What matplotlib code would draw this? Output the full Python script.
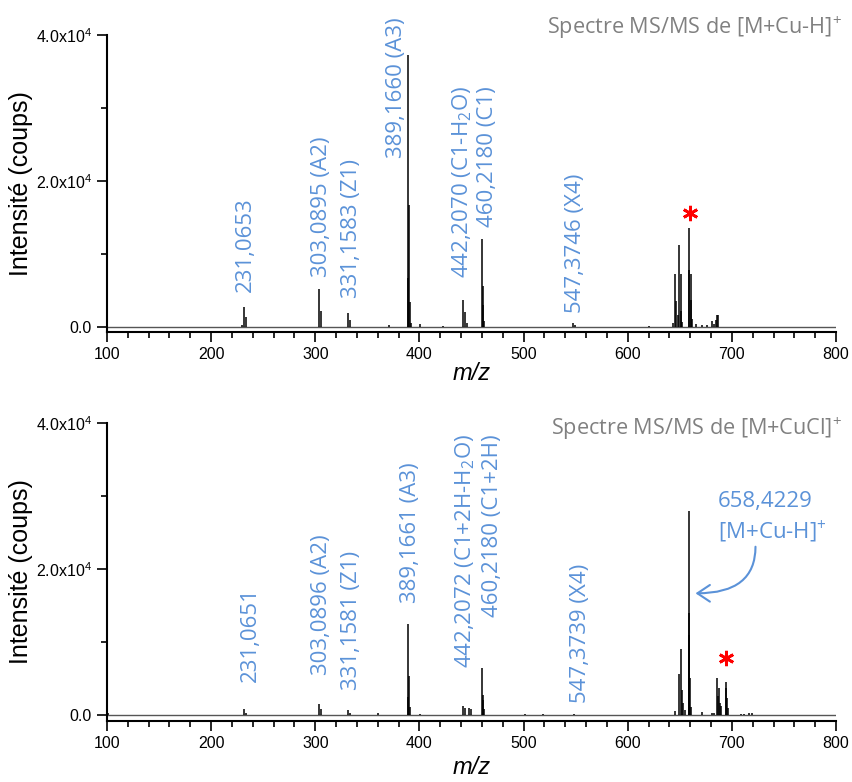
import matplotlib
matplotlib.use('Agg')
import matplotlib.pyplot as plt
from matplotlib.patches import FancyArrowPatch

plt.rcParams['mathtext.default'] = 'regular'

AXFONT = 'Liberation Sans'
LBLFONT = 'Open Sans'
BLUE = '#5B92D8'

# spectre MS/MS de [M+Cu-H]+
top_mz = [229.5, 231.1, 233.1, 303.1, 305.1, 331.2, 333.2, 370.5, 389.2, 389.5, 390.2,
          391.2, 392.2, 400.5, 423.0, 442.2, 444.2, 445.2, 460.2, 460.6, 461.2, 462.2,
          547.4, 549.4, 620.0, 643.9, 645.6, 646.8, 648.2, 649.7, 650.7, 651.6, 652.6,
          658.4, 659.3, 660.3, 661.2, 662.2, 665.4, 671.2, 676.6, 681.4, 683.0, 684.6,
          685.9, 686.9]
top_int = [300, 2780, 1400, 5160, 2190, 1880, 960, 250, 37300, 6750, 16700,
           3470, 600, 400, 200, 3700, 2010, 600, 12000, 3000, 5660, 800,
           600, 300, 200, 500, 7300, 3500, 1600, 11300, 7200, 2200, 700,
           13600, 7800, 7200, 3650, 1150, 400, 300, 300, 780, 400, 1000,
           1600, 1700]

# spectre MS/MS de [M+CuCl]+
bot_mz = [101.0, 231.1, 233.1, 303.1, 305.1, 331.2, 333.2, 360.0, 389.2, 389.5, 390.2,
          391.2, 400.5, 442.2, 444.2, 447.2, 449.2, 460.2, 460.6, 461.2, 462.2, 501.0,
          519.0, 548.0, 645.5, 649.7, 650.7, 651.7, 653.0, 654.6, 658.4, 658.6, 659.3,
          660.2, 661.2, 671.7, 681.3, 683.3, 686.1, 687.1, 688.0, 689.0, 690.0, 693.9,
          694.8, 695.8, 696.7, 708.5, 711.7, 716.7, 719.7]
bot_int = [300, 780, 300, 1500, 780, 700, 300, 300, 12400, 2400, 5400,
           1050, 200, 1270, 900, 1000, 800, 6400, 2000, 2740, 800, 200,
           200, 200, 550, 5600, 9000, 3400, 1700, 700, 27900, 11000, 14000,
           5000, 1100, 400, 300, 300, 5000, 2600, 3650, 1600, 1200, 4560,
           3650, 2280, 1000, 200, 200, 300, 250]

# peak labels: (x, y of text start, text)
top_labels = [(233.3, 4800, '231,0653'),
              (306.3, 6850, '303,0895 (A2)'),
              (335.2, 3970, '331,1583 (Z1)'),
              (378.4, 23150, '389,1660 (A3)'),
              (440.9, 6700, '442,2070 (C1-H$_2$O)'),
              (464.9, 13700, '460,2180 (C1)'),
              (549.7, 1900, '547,3746 (X4)')]
bot_labels = [(237.4, 4560, '231,0651'),
              (306.3, 5480, '303,0896 (A2)'),
              (335.2, 3420, '331,1581 (Z1)'),
              (391.2, 15340, '389,1661 (A3)'),
              (444.0, 6440, '442,2072 (C1+2H-H$_2$O)'),
              (469.7, 13420, '460,2180 (C1+2H)'),
              (554.5, 1640, '547,3739 (X4)')]

top_star = (659.6, 15600)
bot_star = (694.8, 7770)

fig = plt.figure(figsize=(8.53, 7.82), dpi=100)
ax1 = fig.add_axes([0.12544, 0.57545, 0.85463, 0.37979])
ax2 = fig.add_axes([0.12544, 0.07801, 0.85463, 0.38107])


def style_axis(ax, ybottom):
    ax.set_xlim(100, 800)
    ax.set_ylim(ybottom, 40000)
    ax.spines['top'].set_visible(False)
    ax.spines['right'].set_visible(False)
    for s in ('left', 'bottom'):
        ax.spines[s].set_linewidth(1.5)
    ax.set_xticks(range(100, 801, 100))
    ax.set_xticks(range(100, 801, 20), minor=True)
    ax.set_yticks([0, 20000, 40000])
    ax.set_yticklabels(['0.0', '2.0x10$^{4}$', '4.0x10$^{4}$'])
    ax.set_yticks([10000, 30000], minor=True)
    ax.tick_params(which='major', direction='out', length=7, width=1.2, pad=4,
                   labelsize=11.5)
    ax.tick_params(which='minor', direction='out', length=4, width=1.2)
    for lab in ax.get_xticklabels() + ax.get_yticklabels():
        lab.set_fontfamily(AXFONT)
    ax.set_ylabel('Intensité (coups)', fontsize=18, fontfamily=AXFONT)
    ax.yaxis.set_label_coords(-0.1015, 0.5)
    ax.set_xlabel('m/z', fontsize=17, fontfamily=AXFONT, style='italic', va='top')
    ax.hlines(0, 100, 800, color='#555555', lw=1.0)


style_axis(ax1, -685)
style_axis(ax2, -822)
ax1.xaxis.set_label_coords(0.5, -0.10)
ax2.xaxis.set_label_coords(0.5, -0.118)

ax1.vlines(top_mz, 0, top_int, color='black', lw=1.1)
ax2.vlines(bot_mz, 0, bot_int, color='black', lw=1.1)

for ax, labels in ((ax1, top_labels), (ax2, bot_labels)):
    for x, y, t in labels:
        ax.text(x, y, t, rotation=90, ha='center', va='bottom', color=BLUE,
                fontsize=16, fontfamily=LBLFONT)

for ax, (x, y) in ((ax1, top_star), (ax2, bot_star)):
    ax.plot([x], [y], marker=(6, 2, 0), ms=11, mew=2, color='red', clip_on=False)

ax2.text(686.8, 29200, '658,4229', color=BLUE, fontsize=16, fontfamily=LBLFONT,
         ha='left', va='center')
ax2.text(687.1, 25100, '[M+Cu-H]$^{+}$', color=BLUE, fontsize=16, fontfamily=LBLFONT,
         ha='left', va='center')
arrow = FancyArrowPatch((722.7, 23050), (665.1, 16670),
                        connectionstyle='angle3,angleA=90,angleB=0',
                        arrowstyle='->,head_length=0.45,head_width=0.3',
                        mutation_scale=20, color=BLUE, lw=1.5,
                        shrinkA=0, shrinkB=0)
ax2.add_patch(arrow)

fig.text(0.9868, 0.9642, 'Spectre MS/MS de [M+Cu-H]$^{+}$', ha='right', va='center',
         color='#808080', fontsize=15.6, fontfamily=LBLFONT)
fig.text(0.9868, 0.4523, 'Spectre MS/MS de [M+CuCl]$^{+}$', ha='right', va='center',
         color='#808080', fontsize=15.6, fontfamily=LBLFONT)

fig.savefig('out.png', dpi=100)
